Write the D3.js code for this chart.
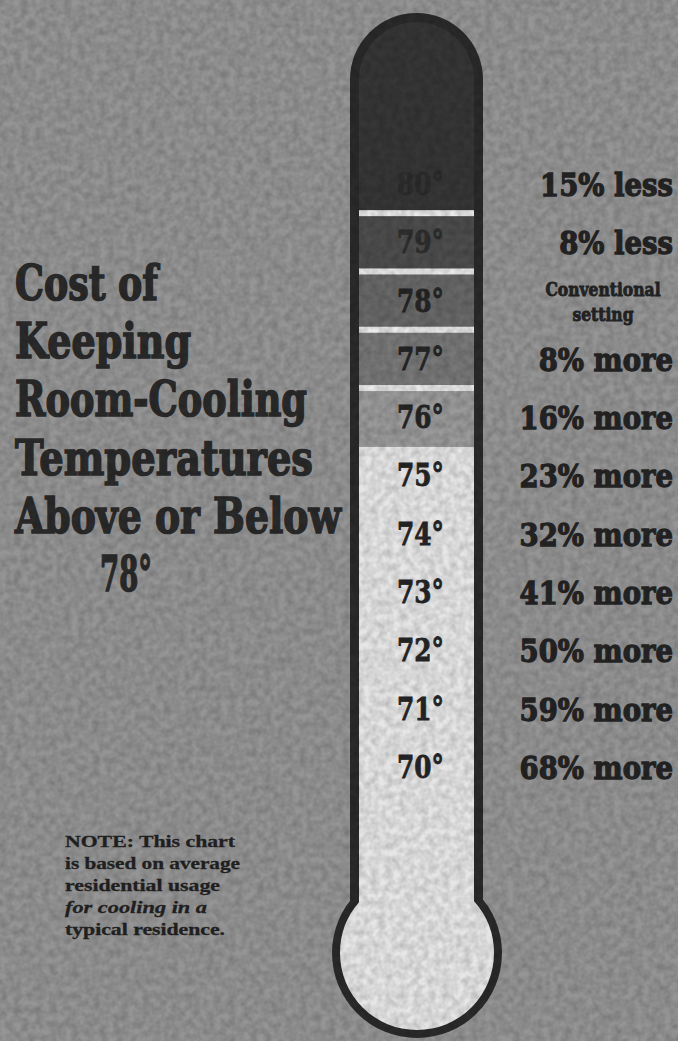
<!DOCTYPE html>
<html>
<head>
<meta charset="utf-8">
<script src="https://cdn.jsdelivr.net/npm/d3@7"></script>
<style>
  body { margin: 0; background: #8c8c8c; }
  svg { display: block; }
</style>
</head>
<body>
<svg id="chart"></svg>
<script>
const WIDTH = 678;
const HEIGHT = 1041;

// data
const temps = [80, 79, 78, 77, 76, 75, 74, 73, 72, 71, 70];
const costChange = [-15, -8, 0, 8, 16, 23, 32, 41, 50, 59, 68];
const conventional = 78;
const titleLines = ['Cost of', 'Keeping', 'Room-Cooling', 'Temperatures', 'Above or Below', '78°'];
const noteLines = ['NOTE: This chart', 'is based on average', 'residential usage', 'for cooling in a', 'typical residence.'];

// shades of the upper bands, 80° down to 76°; the rest is left light
const bandShades = ['#363636', '#4d4d4d', '#686868', '#787878', '#9a9a9a'];
const TITLE_WIDTHS = [143, 176, 292, 298, 326, 52];
const NOTE_WIDTHS = [170, 175, 155, 142, 160];

const svg = d3.select('#chart')
  .attr('width', WIDTH)
  .attr('height', HEIGHT);

// paper grain: fine, only darkens a little
const defs = svg.append('defs');
const paper = defs.append('filter').attr('id', 'paper')
  .attr('x', 0).attr('y', 0).attr('width', '100%').attr('height', '100%');
paper.append('feTurbulence')
  .attr('type', 'fractalNoise')
  .attr('baseFrequency', 0.14)
  .attr('numOctaves', 2)
  .attr('seed', 4);
paper.append('feColorMatrix')
  .attr('type', 'matrix')
  .attr('values', '0 0 0 0 0  0 0 0 0 0  0 0 0 0 0  0.3 0 0 0 -0.08');

svg.append('rect')
  .attr('width', WIDTH).attr('height', HEIGHT)
  .attr('fill', '#959595');

const y = d3.scaleLinear()
  .domain([80, 70])
  .range([184, 767]);
const step = Math.abs(y(79) - y(80));

const cx = 416.5;
const tube = { left: 350, right: 483, top: 13, border: 9 };
const bulb = { cx: 417, cy: 953, r: 85 };
const domeR = (tube.right - tube.left) / 2;
const domeCy = tube.top + domeR;

// thermometer outline as dark body
const body = svg.append('g').attr('fill', '#2a2a2a');
body.append('circle').attr('cx', cx).attr('cy', domeCy).attr('r', domeR);
body.append('rect')
  .attr('x', tube.left).attr('y', domeCy)
  .attr('width', tube.right - tube.left).attr('height', bulb.cy - domeCy);
body.append('circle').attr('cx', bulb.cx).attr('cy', bulb.cy).attr('r', bulb.r);

// inner area clip
const clip = defs.append('clipPath').attr('id', 'inner');
clip.append('circle').attr('cx', cx).attr('cy', domeCy).attr('r', domeR - tube.border);
clip.append('rect')
  .attr('x', tube.left + tube.border).attr('y', domeCy)
  .attr('width', tube.right - tube.left - 2 * tube.border)
  .attr('height', bulb.cy - domeCy);
clip.append('circle').attr('cx', bulb.cx).attr('cy', bulb.cy).attr('r', bulb.r - tube.border + 1);

const inner = svg.append('g').attr('clip-path', 'url(#inner)');

// light lower part
inner.append('rect')
  .attr('x', 0).attr('width', WIDTH)
  .attr('y', y(temps[bandShades.length]) - step / 2)
  .attr('height', HEIGHT)
  .attr('fill', '#e6e6e6');

// shaded bands
inner.selectAll('rect.band')
  .data(temps.slice(0, bandShades.length))
  .enter()
  .append('rect')
  .attr('class', 'band')
  .attr('x', 0).attr('width', WIDTH)
  .attr('y', (d, i) => (i === 0 ? 0 : y(d) - step / 2))
  .attr('height', (d, i) => (i === 0 ? y(d) + step / 2 : step))
  .attr('fill', (d, i) => bandShades[i]);

// white separators between shaded bands
inner.selectAll('rect.sep')
  .data(temps.slice(1, bandShades.length))
  .enter()
  .append('rect')
  .attr('class', 'sep')
  .attr('x', 0).attr('width', WIDTH)
  .attr('y', d => y(d) - step / 2 - 3)
  .attr('height', 6)
  .attr('fill', '#eaeaea');

// degree labels in the tube (squeezed horizontally)
const SQ_DEG = 0.8;
const degColor = (d, i) => (i === 0 ? '#2c2c2c' : i === 1 ? '#2e2e2e' : '#252525');
svg.append('g')
  .attr('transform', `scale(${SQ_DEG},1)`)
  .selectAll('text')
  .data(temps)
  .enter()
  .append('text')
  .attr('x', (cx + 4) / SQ_DEG)
  .attr('y', d => y(d) + 11)
  .attr('text-anchor', 'middle')
  .attr('font-family', 'DejaVu Serif')
  .attr('font-weight', 'bold')
  .attr('font-size', 31)
  .attr('fill', degColor)
  .attr('stroke', degColor)
  .attr('stroke-width', 0.8)
  .text(d => `${d}°`);

// cost labels on the right
const SQ_COST = 0.86;
const costText = v => (v < 0 ? `${-v}% less` : `${v}% more`);
const right = svg.append('g')
  .attr('font-family', 'DejaVu Serif')
  .attr('font-weight', 'bold')
  .attr('fill', '#242424')
  .attr('stroke', '#242424');

right.append('g')
  .attr('transform', `scale(${SQ_COST},1)`)
  .selectAll('text')
  .data(temps.map((t, i) => ({ t, v: costChange[i] })).filter(d => d.t !== conventional))
  .enter()
  .append('text')
  .attr('x', 673 / SQ_COST)
  .attr('y', d => y(d.t) + 12)
  .attr('text-anchor', 'end')
  .attr('font-size', 32)
  .attr('stroke-width', 1.3)
  .text(d => costText(d.v));

right.append('g')
  .attr('transform', 'scale(0.82,1)')
  .selectAll('text')
  .data(['Conventional', 'setting'])
  .enter()
  .append('text')
  .attr('x', 603 / 0.82)
  .attr('y', (d, i) => y(conventional) - 5 + i * 25)
  .attr('text-anchor', 'middle')
  .attr('font-size', 19)
  .attr('stroke-width', 0.9)
  .text(d => d);

// title
svg.append('g')
  .attr('font-family', 'DejaVu Serif')
  .attr('font-weight', 'bold')
  .attr('font-size', 48)
  .attr('fill', '#2a2a2a')
  .attr('stroke', '#2a2a2a')
  .attr('stroke-width', 1.6)
  .selectAll('text')
  .data(titleLines)
  .enter()
  .append('text')
  .attr('x', (d, i) => (i === titleLines.length - 1 ? 100 : 15))
  .attr('y', (d, i) => 300 + i * 58.2)
  .attr('textLength', (d, i) => TITLE_WIDTHS[i])
  .attr('lengthAdjust', 'spacingAndGlyphs')
  .text(d => d);

// note
svg.append('g')
  .attr('font-family', 'Liberation Serif')
  .attr('font-weight', 'bold')
  .attr('font-size', 17)
  .attr('fill', '#222')
  .attr('stroke', '#222')
  .attr('stroke-width', 0.3)
  .selectAll('text')
  .data(noteLines)
  .enter()
  .append('text')
  .attr('x', 65)
  .attr('y', (d, i) => 847 + i * 22)
  .attr('font-style', (d, i) => (i === 3 ? 'italic' : 'normal'))
  .attr('textLength', (d, i) => NOTE_WIDTHS[i])
  .attr('lengthAdjust', 'spacingAndGlyphs')
  .text(d => d);

// paper grain on top
svg.append('rect')
  .attr('width', WIDTH).attr('height', HEIGHT)
  .attr('filter', 'url(#paper)')
  .attr('pointer-events', 'none');
</script>
</body>
</html>
